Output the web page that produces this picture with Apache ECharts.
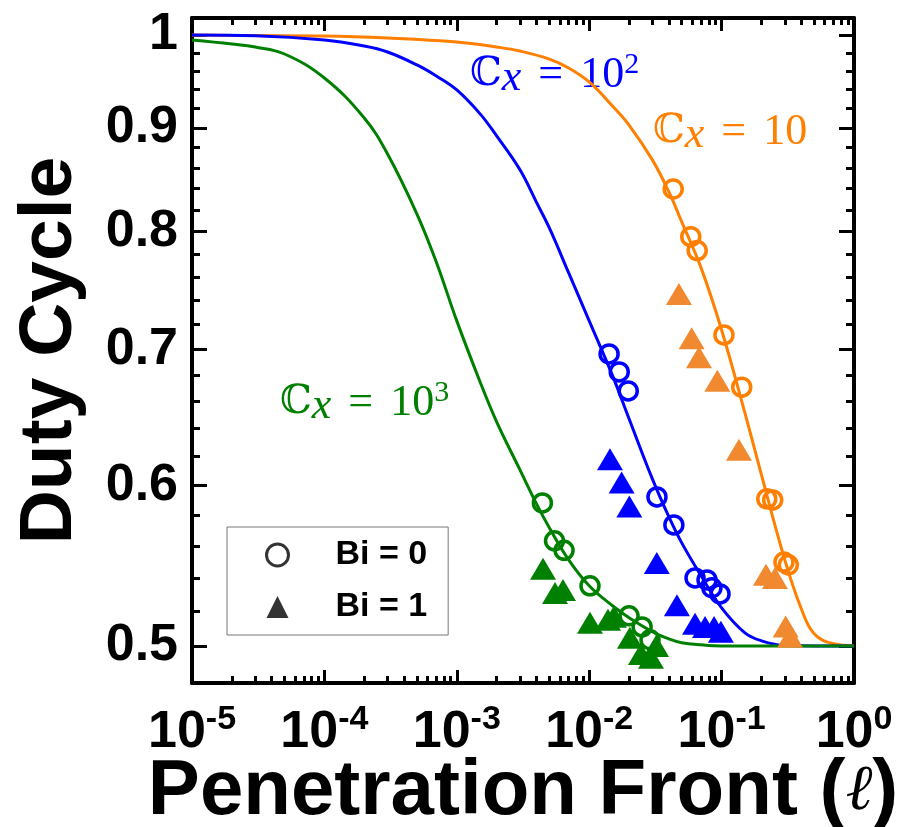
<!DOCTYPE html>
<html>
<head>
<meta charset="utf-8">
<script src="https://cdn.jsdelivr.net/npm/echarts@6.0.0/dist/echarts.min.js"></script>
<style>
  html, body { margin: 0; padding: 0; background: #fff; }
  #chart { width: 910px; height: 827px; }
</style>
</head>
<body>
<div id="chart"></div>
<script>
// model curves: [penetration front, duty cycle]
const orangeCurve = [[1e-5,1.000],[3e-5,0.9994],[1e-4,0.9989],[3e-4,0.9966],[1e-3,0.9921],[2e-3,0.9865],[3e-3,0.9820],[5e-3,0.9731],[7e-3,0.9633],[0.01,0.9481],[0.015,0.9226],[0.02,0.9029],[0.03,0.8679],[0.04,0.8369],[0.05,0.8089],[0.07,0.7678],[0.1,0.7156],[0.15,0.6513],[0.2,0.6071],[0.3,0.5513],[0.4,0.5215],[0.5,0.5069],[0.7,0.5012],[1,0.5001]];
const blueCurve = [[1e-5,1.000],[3e-5,0.9991],[1e-4,0.9943],[2e-4,0.9876],[3e-4,0.9809],[5e-4,0.9666],[7e-4,0.9546],[1e-3,0.9396],[1.5e-3,0.9144],[2e-3,0.8918],[3e-3,0.8582],[4e-3,0.827],[5e-3,0.8034],[7e-3,0.7634],[0.01,0.7230],[0.015,0.6795],[0.02,0.6470],[0.03,0.6043],[0.04,0.5788],[0.05,0.5620],[0.07,0.5414],[0.1,0.5221],[0.15,0.5075],[0.2,0.5029],[0.3,0.5003],[1,0.5000]];
const greenCurve = [[1e-5,0.9943],[2e-5,0.9898],[3e-5,0.9865],[5e-5,0.9787],[1e-4,0.9524],[2e-4,0.9101],[3e-4,0.8737],[5e-4,0.8162],[7e-4,0.7730],[1e-3,0.7230],[1.5e-3,0.6746],[2e-3,0.6447],[3e-3,0.6105],[4e-3,0.5874],[5e-3,0.5717],[7e-3,0.5513],[0.01,0.5353],[0.015,0.5233],[0.02,0.5162],[0.03,0.5081],[0.04,0.5040],[0.05,0.5018],[0.07,0.5006],[0.1,0.5000],[1,0.5000]];

// measured points, Bi = 0 (open circles) and Bi = 1 (filled triangles)
const orangeBi0 = [[0.0431,0.8397],[0.0585,0.7955],[0.0654,0.7830],[0.1042,0.7116],[0.1419,0.6706],[0.2194,0.5908],[0.2432,0.5901],[0.2958,0.5499],[0.3192,0.5482]];
const orangeBi1 = [[0.0476,0.7454],[0.0594,0.7089],[0.0675,0.6938],[0.0929,0.6756],[0.1352,0.6246],[0.2163,0.5420],[0.2529,0.5401],[0.3048,0.5111],[0.3289,0.5052]];
const blueBi0 = [[0.01413,0.6964],[0.01686,0.6823],[0.01972,0.6678],[0.0325,0.5921],[0.0436,0.5736],[0.0630,0.5401],[0.0776,0.5389],[0.0845,0.5341],[0.0973,0.5304]];
const blueBi1 = [[0.01435,0.6180],[0.01757,0.6018],[0.0201,0.5857],[0.0324,0.5494],[0.0460,0.5236],[0.0630,0.5127],[0.0750,0.5109],[0.0877,0.5109],[0.0988,0.5081]];
const greenBi0 = [[0.00443,0.5881],[0.00547,0.5633],[0.00646,0.5573],[0.01014,0.5353],[0.0200,0.5174],[0.0251,0.5109],[0.0288,0.5035]];
const greenBi1 = [[0.00448,0.5457],[0.00552,0.5310],[0.00634,0.5328],[0.01014,0.5133],[0.01387,0.5150],[0.01538,0.5168],[0.0203,0.5046],[0.0246,0.4955],[0.0293,0.4933],[0.0320,0.5000]];

// ticks
const xDecades = [-5, -4, -3, -2, -1, 0];
const xMinorSteps = [2, 3, 4, 5, 6, 7, 8, 9];
const yTicks = [0.5, 0.6, 0.7, 0.8, 0.9, 1];
const yMinorTicks = [0.52, 0.54, 0.56, 0.58, 0.62, 0.64, 0.66, 0.68, 0.72, 0.74, 0.76, 0.78, 0.82, 0.84, 0.86, 0.88, 0.92, 0.94, 0.96, 0.98];

const ORANGE = '#ff7f00';
const ORANGE_TRI = '#f0892f';
const BLUE = '#0000ff';
const GREEN = '#008000';
const FONT = 'Liberation Sans, Arial, sans-serif';
const SERIF = 'Liberation Serif, DejaVu Serif, serif';

// both axes are drawn in log10 space
const lg = Math.log10;
const toLog = arr => arr.map(p => [lg(p[0]), lg(p[1])]);
const yMin = lg(0.4794);
const yMax = lg(1.0195);

const xMinorVals = [];
xDecades.slice(0, -1).forEach(d => xMinorSteps.forEach(k => xMinorVals.push(d + lg(k))));
const yMajorVals = yTicks.map(lg);
const yMinorVals = yMinorTicks.map(lg);

const tickStyle = { color: '#000', width: 3 };
const lineOn = { show: true, onZero: false, lineStyle: { color: '#000', width: 4 } };
const lineOff = { show: false, onZero: false };

function xAx(position, major, extra) {
  return Object.assign({
    type: 'value', min: -5, max: 0, position: position,
    axisLine: major ? lineOn : lineOff,
    axisTick: major
      ? { show: true, inside: true, length: 13, lineStyle: tickStyle }
      : { show: true, inside: true, length: 7, customValues: xMinorVals, lineStyle: tickStyle },
    axisLabel: { show: false },
    splitLine: { show: false }
  }, major ? { interval: 1 } : {}, extra || {});
}

function yAx(position, major, extra) {
  return Object.assign({
    type: 'value', min: yMin, max: yMax, position: position,
    axisLine: major ? lineOn : lineOff,
    axisTick: { show: true, inside: true, length: major ? 15 : 8,
      customValues: major ? yMajorVals : yMinorVals, lineStyle: tickStyle },
    axisLabel: { show: false },
    splitLine: { show: false }
  }, extra || {});
}

function mathLabel(left, top, color, sup) {
  const base = { fill: color, fontFamily: SERIF, fontSize: 44, lineHeight: 50, verticalAlign: 'middle' };
  return {
    type: 'text', left: left, top: top, silent: true,
    style: {
      text: '{c|ℂ}{x|x}{e|=}{n|10}' + (sup ? '{p|' + sup + '}' : ''),
      rich: {
        c: Object.assign({}, base, { fontFamily: 'DejaVu Serif, serif', fontSize: 40 }),
        x: Object.assign({}, base, { fontStyle: 'italic', lineHeight: 34, verticalAlign: 'bottom' }),
        e: Object.assign({}, base, { padding: [0, 17, 0, 17] }),
        n: base,
        p: Object.assign({}, base, { fontSize: 30, lineHeight: 28, verticalAlign: 'top' })
      }
    }
  };
}

function curve(data, color) {
  return { type: 'line', data: toLog(data), symbol: 'none', smooth: 0.4,
    lineStyle: { color: color, width: 3 }, z: 2, silent: true };
}
function circles(data, color) {
  return { type: 'scatter', data: toLog(data), symbol: 'circle', symbolSize: 18,
    itemStyle: { color: 'rgba(0,0,0,0)', borderColor: color, borderWidth: 3.5, opacity: 1 }, z: 3 };
}
function triangles(data, color) {
  return { type: 'scatter', data: toLog(data), symbol: 'triangle', symbolSize: [26, 22],
    itemStyle: { color: color, opacity: 1 }, z: 3 };
}

const chart = echarts.init(document.getElementById('chart'));
chart.setOption({
  animation: false,
  backgroundColor: '#fff',
  grid: { left: 192, right: 56, top: 18, bottom: 144, containLabel: false, outerBoundsMode: 'none' },
  xAxis: [
    xAx('bottom', true, {
      axisLabel: {
        margin: 20,
        formatter: v => '{b|10}{s|' + Math.round(v) + '}',
        rich: {
          b: { fontFamily: FONT, fontWeight: 'bold', fontSize: 52, color: '#000', lineHeight: 56, verticalAlign: 'bottom' },
          s: { fontFamily: FONT, fontWeight: 'bold', fontSize: 34, color: '#000', lineHeight: 34, verticalAlign: 'top' }
        }
      },
      name: '{t|Penetration Front (}{l|ℓ}{t|)}',
      nameLocation: 'middle',
      nameGap: 68,
      nameMoveOverlap: false,
      nameTextStyle: {
        rich: {
          t: { fontFamily: FONT, fontWeight: 'bold', fontSize: 78, color: '#000', lineHeight: 82 },
          l: { fontFamily: 'DejaVu Serif, serif', fontStyle: 'italic', fontSize: 64, color: '#000', lineHeight: 82 }
        }
      }
    }),
    xAx('bottom', false),
    xAx('top', true),
    xAx('top', false)
  ],
  yAxis: [
    yAx('left', true, {
      axisLabel: {
        customValues: yMajorVals,
        margin: 14,
        formatter: v => String(Math.round(Math.pow(10, v) * 10) / 10),
        fontFamily: FONT, fontWeight: 'bold', fontSize: 52, color: '#000'
      },
      name: 'Duty Cycle',
      nameLocation: 'middle',
      nameGap: 104,
      nameMoveOverlap: false,
      nameTextStyle: { fontFamily: FONT, fontWeight: 'bold', fontSize: 75, color: '#000' }
    }),
    yAx('left', false),
    yAx('right', true),
    yAx('right', false)
  ],
  legend: {
    left: 227, top: 527, orient: 'vertical',
    padding: [11, 21, 11, 38], itemGap: 18,
    itemWidth: 22, itemHeight: 22,
    borderColor: '#777', borderWidth: 1,
    selectedMode: false,
    textStyle: { fontFamily: FONT, fontWeight: 'bold', fontSize: 34, color: '#000', padding: [0, 0, 0, 42] },
    data: [
      { name: 'Bi = 0', icon: 'circle', itemStyle: { color: 'rgba(0,0,0,0)', borderColor: '#000', borderWidth: 3 } },
      { name: 'Bi = 1', icon: 'triangle', itemStyle: { color: '#000', borderWidth: 0 } }
    ]
  },
  graphic: [
    mathLabel(470, 50, BLUE, '2'),
    mathLabel(653, 110, ORANGE, null),
    mathLabel(280, 378, GREEN, '3')
  ],
  series: [
    curve(orangeCurve, ORANGE),
    curve(blueCurve, BLUE),
    curve(greenCurve, GREEN),
    circles(orangeBi0, ORANGE),
    triangles(orangeBi1, ORANGE_TRI),
    circles(blueBi0, BLUE),
    triangles(blueBi1, BLUE),
    circles(greenBi0, GREEN),
    triangles(greenBi1, GREEN),
    { type: 'scatter', name: 'Bi = 0', data: [], symbol: 'circle',
      itemStyle: { color: 'rgba(0,0,0,0)', borderColor: '#000', borderWidth: 3 } },
    { type: 'scatter', name: 'Bi = 1', data: [], symbol: 'triangle', itemStyle: { color: '#000' } }
  ]
});
</script>
</body>
</html>
